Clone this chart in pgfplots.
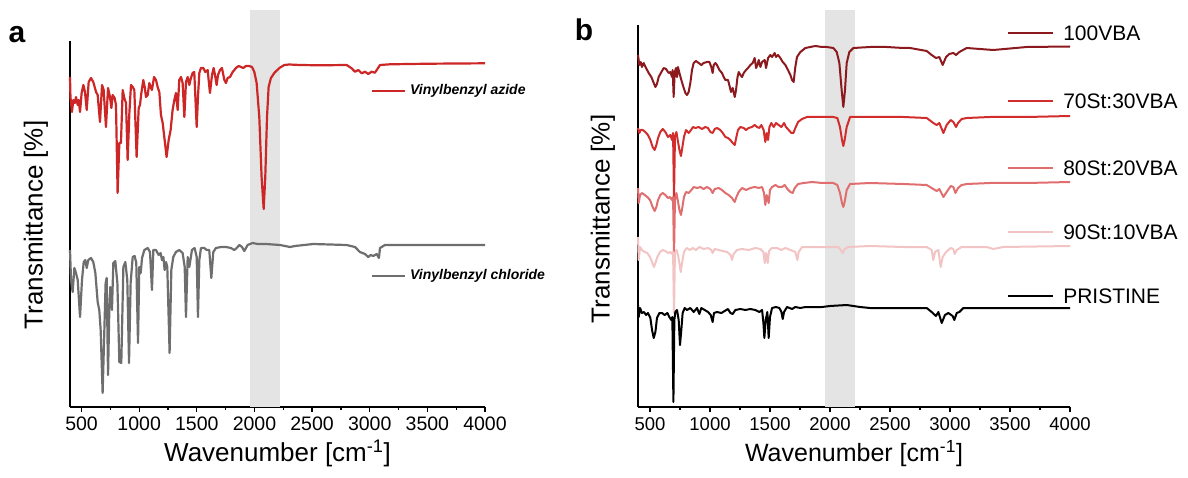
\documentclass[border=0pt]{standalone}
\usepackage{fontspec}
\setmainfont{Liberation Sans}
\usepackage{pgfplots}
\pgfplotsset{compat=1.18}
\definecolor{redA}{RGB}{205,38,38}
\definecolor{greyA}{RGB}{110,110,110}
\definecolor{cA}{RGB}{140,25,30}
\definecolor{cB}{RGB}{210,45,45}
\definecolor{cC}{RGB}{224,110,110}
\definecolor{cD}{RGB}{242,196,196}
\definecolor{shadeC}{RGB}{228,228,228}
\pgfplotsset{
  irstyle/.style={
    scale only axis, clip=false,
    xmin=400, xmax=4000, ymin=70, ymax=467,
    axis x line*=bottom, axis y line=none,
    axis line style={line width=2.2pt, black},
    xtick={500,1000,...,4000},
    minor xtick={750,1250,...,3750},
    ytick=\empty,
    tick align=outside,
    major tick length=5pt, minor tick length=3pt,
    every tick/.style={black, line width=1.3pt},
    /pgf/number format/assume math mode=true,
    /pgf/number format/1000 sep={},
    x tick label style={inner sep=5pt},
    every axis plot/.append style={line join=round},
  }
}
\begin{document}
\begin{tikzpicture}[x=1pt,y=1pt]
\useasboundingbox (0,0) rectangle (1188,477);
% ---------------- panel a ----------------
\begin{axis}[irstyle,
  at={(70pt,70pt)}, anchor=south west, width=415pt, height=397pt,
  x tick label style={font=\fontsize{19.5}{19.5}\selectfont},
  xlabel={Wavenumber [cm\textsuperscript{-1}]},
  xlabel style={font=\fontsize{26}{26}\selectfont, at={(axis description cs:0.5,0)}, anchor=center, yshift=-46pt},
]
\fill[shadeC] (axis cs:1960,70) rectangle (axis cs:2220,467);
\draw[line width=2.2pt] (axis cs:400,70) -- (axis cs:400,436);
\addplot[redA, line width=2.2pt] coordinates {
(400,400)(404,380)(417,365)(429,377)(443,374)(452,380)(467,372)(475,377)(487,365)(501,384)(516,392)(530,385)(545,367)(562,395)(582,399)(602,395)(626,385)(640,382)(660,355)(678,392)(692,387)(712,350)(730,389)(747,380)(759,369)(770,382)(787,379)(799,372)(813,284)(828,334)(842,334)(857,387)(871,379)(886,374)(900,317)(915,364)(929,392)(944,390)(958,387)(978,320)(996,369)(1007,372)(1019,384)(1036,397)(1048,390)(1059,380)(1074,382)(1088,394)(1103,389)(1111,387)(1129,400)(1146,397)(1160,390)(1175,385)(1189,362)(1204,354)(1218,340)(1238,320)(1256,337)(1273,347)(1290,367)(1305,377)(1319,384)(1334,367)(1348,397)(1363,400)(1377,394)(1392,360)(1406,395)(1421,400)(1435,392)(1449,399)(1464,404)(1478,405)(1499,350)(1510,380)(1522,404)(1536,409)(1556,409)(1574,405)(1594,407)(1614,384)(1632,402)(1646,409)(1661,400)(1672,392)(1684,402)(1701,407)(1718,409)(1739,397)(1753,394)(1767,399)(1788,400)(1811,405)(1840,409)(1863,411)(1883,410)(1903,409)(1926,411)(1955,411)(1979,410)(1999,405)(2019,394)(2042,360)(2062,300)(2080,268)(2094,300)(2109,360)(2123,390)(2143,399)(2172,404)(2216,409)(2259,412)(2300,412.5)(2395,412)(2568,411.7)(2800,412)(2843,408.7)(2872,405.3)(2901,407)(2930,403.7)(2959,405.3)(2987,403)(3016,405.3)(3045,404.3)(3065,407.7)(3089,412)(3175,412.7)(3522,413.3)(4000,413.7)
};
\addplot[greyA, line width=2.2pt] coordinates {
(400,227)(409,197)(423,185)(438,209)(452,204)(467,197)(487,160)(504,197)(519,215)(533,217)(545,209)(559,217)(582,219)(602,215)(620,204)(640,175)(654,167)(666,147)(683,84)(698,147)(709,194)(718,199)(730,102)(741,167)(750,190)(764,167)(776,214)(793,216)(811,194)(828,115)(845,114)(863,210)(880,215)(897,197)(912,114)(926,194)(944,220)(961,221)(975,214)(990,134)(1001,210)(1013,204)(1025,219)(1045,227)(1074,229)(1094,225)(1111,187)(1123,227)(1146,227)(1169,222)(1186,224)(1198,217)(1210,220)(1221,207)(1233,215)(1244,210)(1264,124)(1279,207)(1296,220)(1319,225)(1348,227)(1377,224)(1395,210)(1406,160)(1421,220)(1435,210)(1458,227)(1481,229)(1499,220)(1510,160)(1522,217)(1536,229)(1565,229)(1585,227)(1608,227)(1626,199)(1643,225)(1666,229)(1710,230)(1753,230)(1796,229)(1825,227)(1846,229)(1869,232)(1892,230)(1912,226)(1941,232)(1984,234)(2028,233)(2100,233)(2221,232)(2308,230)(2351,231)(2510,233)(2800,232)(2872,230)(2915,225)(2959,223)(2987,220)(3008,222)(3031,221)(3060,223)(3080,219)(3089,229)(3132,232)(3378,232)(4000,232)
};
\draw[redA, line width=2.2pt] (axis cs:3019,386) -- (axis cs:3305,386);
\node[anchor=west, inner sep=0pt, font=\fontsize{14}{14}\selectfont\bfseries\itshape] at (axis cs:3349,386) {Vinylbenzyl azide};
\draw[greyA, line width=2.2pt] (axis cs:3019,201) -- (axis cs:3305,201);
\node[anchor=west, inner sep=0pt, font=\fontsize{14}{14}\selectfont\bfseries\itshape] at (axis cs:3349,201) {Vinylbenzyl chloride};
\end{axis}
\node[rotate=90, font=\fontsize{26}{26}\selectfont] at (36,252) {Transmittance [\%]};
\node[font=\fontsize{30}{30}\selectfont\bfseries] at (17,442) {a};
% ---------------- panel b ----------------
\begin{axis}[irstyle,
  at={(638pt,70pt)}, anchor=south west, width=432pt, height=397pt,
  x tick label style={font=\fontsize{18.5}{18.5}\selectfont},
  xlabel={Wavenumber [cm\textsuperscript{-1}]},
  xlabel style={font=\fontsize{25}{25}\selectfont, at={(axis description cs:0.5,0)}, anchor=center, yshift=-47pt},
]
\fill[shadeC] (axis cs:1960,70) rectangle (axis cs:2210,467);
\draw[line width=2.2pt] (axis cs:400,70) -- (axis cs:400,452);
\addplot[cA, line width=2pt] coordinates {
(400,422)(411,412)(422,415)(433,410)(447,414)(467,409)(489,404)(511,400)(531,394)(545,390)(558,393)(572,400)(595,405)(614,409)(633,408)(656,404)(670,405)(683,400)(689,407)(697,380)(706,405)(717,409)(725,400)(733,410)(745,404)(761,397)(781,389)(795,384)(808,382)(822,385)(836,394)(850,407)(864,414)(883,416)(906,414)(928,412)(947,414)(975,415)(995,415)(1011,410)(1022,404)(1031,412)(1045,414)(1058,412)(1078,407)(1100,404)(1114,400)(1128,397)(1150,397)(1161,392)(1175,385)(1189,389)(1206,380)(1217,387)(1228,399)(1239,405)(1253,402)(1267,400)(1281,404)(1300,407)(1317,409)(1336,412)(1356,414)(1372,419)(1384,409)(1395,412)(1406,417)(1420,410)(1434,415)(1456,417)(1467,409)(1484,419)(1503,422)(1517,420)(1539,424)(1550,420)(1567,422)(1586,419)(1606,415)(1628,412)(1650,407)(1670,402)(1684,397)(1697,395)(1711,410)(1725,420)(1753,425)(1795,429)(1836,430)(1878,431)(1934,430)(1972,430)(2028,429)(2056,425)(2078,414)(2097,387)(2111,370)(2125,387)(2139,414)(2161,425)(2195,429)(2333,430)(2472,430)(2611,429)(2667,429)(2806,426)(2847,422)(2883,419)(2911,420)(2939,412)(2967,420)(2994,423)(3028,424)(3050,422)(3078,425)(3139,429)(3361,427)(3639,430)(4000,430.5)
};
\addplot[cB, line width=2pt] coordinates {
(400,349)(411,344)(422,347)(439,347)(461,345)(483,342)(503,337)(522,330)(539,327)(553,332)(567,339)(586,345)(606,348)(628,345)(650,340)(670,342)(683,337)(692,344)(700,277)(708,340)(720,345)(731,337)(745,327)(758,321)(770,330)(783,340)(800,347)(822,344)(842,347)(858,350)(878,349)(906,350)(933,348)(961,350)(983,349)(1003,345)(1022,344)(1039,348)(1058,349)(1086,347)(1106,344)(1128,340)(1150,339)(1170,337)(1189,334)(1206,332)(1220,340)(1233,347)(1253,350)(1281,349)(1300,347)(1322,349)(1350,350)(1372,352)(1392,350)(1411,349)(1428,352)(1447,347)(1461,335)(1472,344)(1484,337)(1495,350)(1511,354)(1531,350)(1550,354)(1572,352)(1595,350)(1617,354)(1633,350)(1656,347)(1678,344)(1695,344)(1711,349)(1734,355)(1767,358)(1808,360)(1864,360)(1934,360)(2028,360)(2061,359)(2083,350)(2100,337)(2111,331)(2122,337)(2139,350)(2167,360)(2333,360)(2611,360)(2806,359)(2861,354)(2889,352)(2911,354)(2945,344)(2972,352)(3006,357)(3028,355)(3050,350)(3067,354)(3097,358)(3139,359)(3333,360)(3639,360)(4000,361)
};
\addplot[cC, line width=2pt] coordinates {
(400,289)(406,274)(417,282)(433,284)(456,282)(478,280)(500,277)(522,270)(539,266)(553,270)(567,277)(586,282)(606,284)(628,282)(650,279)(667,280)(683,277)(692,280)(700,220)(708,277)(720,284)(731,277)(745,267)(758,262)(770,270)(783,280)(800,285)(822,284)(845,287)(864,290)(892,289)(920,290)(947,288)(975,290)(1003,288)(1022,284)(1039,288)(1072,289)(1100,287)(1128,284)(1156,282)(1183,279)(1206,275)(1220,280)(1239,285)(1267,289)(1300,287)(1336,289)(1372,290)(1406,289)(1434,290)(1450,284)(1461,272)(1472,282)(1489,274)(1500,287)(1517,290)(1545,292)(1572,290)(1600,290)(1622,292)(1645,288)(1670,285)(1689,284)(1706,289)(1734,293)(1781,294)(1850,295)(1934,294)(2028,294)(2061,292)(2083,284)(2100,274)(2111,270)(2122,275)(2139,287)(2167,293)(2333,294)(2611,293)(2806,292)(2861,288)(2889,286)(2911,288)(2945,280)(2972,285)(3006,291)(3028,290)(3045,284)(3067,289)(3097,292)(3139,293)(3333,294)(3639,294)(4000,295)
};
\addplot[cD, line width=2pt] coordinates {
(400,240)(406,217)(417,230)(433,227)(456,225)(478,224)(500,220)(517,215)(533,210)(545,214)(561,220)(583,225)(606,227)(628,226)(650,224)(672,225)(683,223)(692,225)(700,164)(708,224)(722,227)(733,222)(745,214)(756,205)(767,214)(783,225)(806,229)(833,227)(856,229)(883,227)(911,230)(947,228)(983,229)(1011,227)(1022,224)(1039,228)(1072,227)(1106,226)(1142,225)(1172,222)(1183,217)(1197,223)(1225,227)(1267,228)(1322,227)(1378,229)(1420,228)(1445,225)(1456,214)(1467,224)(1481,214)(1492,226)(1517,229)(1559,229)(1595,227)(1628,229)(1670,227)(1711,225)(1728,217)(1739,225)(1767,230)(1822,230)(1934,230)(2028,230)(2069,230)(2089,227)(2106,224)(2122,228)(2153,230)(2333,231)(2611,230)(2806,230)(2847,227)(2861,217)(2875,225)(2903,227)(2922,210)(2939,220)(2967,225)(3006,229)(3028,228)(3039,223)(3056,227)(3097,230)(3167,230)(3306,230)(3361,228)(3444,230)(4000,231)
};
\addplot[black, line width=2pt] coordinates {
(400,172)(406,160)(417,169)(433,164)(450,165)(467,162)(483,164)(503,159)(517,147)(531,139)(545,145)(558,159)(578,164)(600,164)(622,162)(645,164)(661,160)(678,157)(686,160)(695,75)(703,157)(711,165)(725,167)(739,157)(750,132)(761,147)(772,164)(789,169)(808,167)(836,169)(864,165)(892,169)(911,163)(928,169)(956,167)(983,165)(1006,162)(1022,155)(1033,164)(1058,165)(1095,164)(1122,166)(1150,168)(1170,164)(1189,163)(1211,167)(1253,168)(1295,167)(1336,168)(1378,167)(1411,165)(1434,167)(1445,154)(1453,139)(1464,157)(1478,165)(1489,139)(1500,160)(1517,169)(1550,170)(1578,169)(1595,165)(1606,158)(1617,165)(1642,170)(1684,168)(1711,170)(1753,169)(1795,170)(1864,170)(1934,170)(2000,171)(2139,172)(2250,170)(2333,169)(2806,169)(2847,165)(2883,161)(2903,165)(2931,154)(2958,162)(2986,164)(3022,161)(3036,157)(3056,164)(3078,165)(3111,169)(4000,169)
};
\draw[cA, line width=2pt] (axis cs:3483,444) -- (axis cs:3858,444);
\node[anchor=west, inner sep=0pt, font=\fontsize{21}{21}\selectfont] at (axis cs:3942,444) {100VBA};
\draw[cB, line width=2pt] (axis cs:3483,376) -- (axis cs:3858,376);
\node[anchor=west, inner sep=0pt, font=\fontsize{21}{21}\selectfont] at (axis cs:3942,376) {70St:30VBA};
\draw[cC, line width=2pt] (axis cs:3483,309) -- (axis cs:3858,309);
\node[anchor=west, inner sep=0pt, font=\fontsize{21}{21}\selectfont] at (axis cs:3942,309) {80St:20VBA};
\draw[cD, line width=2pt] (axis cs:3483,245) -- (axis cs:3858,245);
\node[anchor=west, inner sep=0pt, font=\fontsize{21}{21}\selectfont] at (axis cs:3942,245) {90St:10VBA};
\draw[black, line width=2pt] (axis cs:3483,181) -- (axis cs:3858,181);
\node[anchor=west, inner sep=0pt, font=\fontsize{21}{21}\selectfont] at (axis cs:3942,181) {PRISTINE};
\end{axis}
\node[rotate=90, font=\fontsize{26}{26}\selectfont] at (603,258) {Transmittance [\%]};
\node[font=\fontsize{30}{30}\selectfont\bfseries] at (584,447) {b};
\end{tikzpicture}
\end{document}
